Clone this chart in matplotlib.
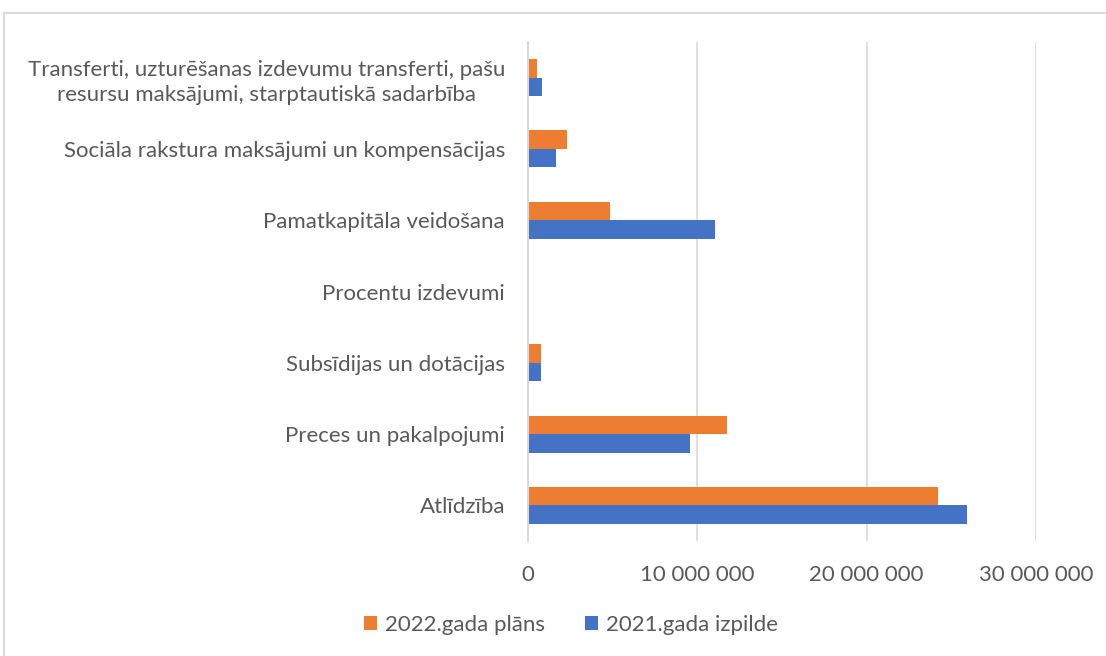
import numpy as np
import matplotlib.pyplot as plt
from matplotlib.lines import Line2D
from matplotlib.ticker import FuncFormatter

categories = [
    "Atlīdzība",
    "Preces un pakalpojumi",
    "Subsīdijas un dotācijas",
    "Procentu izdevumi",
    "Pamatkapitāla veidošana",
    "Sociāla rakstura maksājumi un kompensācijas",
    "Transferti, uzturēšanas izdevumu transferti, pašu\nresursu maksājumi, starptautiskā sadarbība",
]
plan_2022 = [24240000, 11760000, 750000, 0, 4850000, 2330000, 510000]
izpilde_2021 = [25920000, 9540000, 750000, 0, 11070000, 1660000, 830000]
series_names = ["2022.gada plāns", "2021.gada izpilde"]

orange = "#ed7d31"
blue = "#4472c4"
gray_text = "#595959"

plt.rcParams['font.family'] = ['Lato', 'DejaVu Sans']

fig = plt.figure(figsize=(11.06, 6.56), dpi=100)
ax = fig.add_axes([528 / 1106, 1 - 541 / 656, (1036 - 528) / 1106, (541 - 42) / 656])

y = np.arange(len(categories))
h = 0.26
ax.barh(y + h / 2, plan_2022, height=h, color=orange, label=series_names[0], zorder=3)
ax.barh(y - h / 2, izpilde_2021, height=h, color=blue, label=series_names[1], zorder=3)

ax.set_ylim(-0.5, len(categories) - 0.5)
ax.set_xlim(0, 30000000)
ax.set_xticks([0, 10000000, 20000000, 30000000])
ax.xaxis.set_major_formatter(FuncFormatter(lambda v, p: f"{int(v):,}".replace(",", " ")))
ax.set_yticks(y)
ax.set_yticklabels(categories)
for lbl in ax.get_yticklabels():
    lbl.set_multialignment('center')
    lbl.set_linespacing(1.35)

fs = 16
ax.tick_params(axis='both', length=0, labelsize=fs, labelcolor=gray_text)
ax.tick_params(axis='y', pad=16.5)
ax.tick_params(axis='x', pad=17)
ax.grid(axis='x', color="#d9d9d9", linewidth=1.2, zorder=0)
for s in ["top", "right", "bottom"]:
    ax.spines[s].set_visible(False)
ax.spines["left"].set_color("#d9d9d9")
ax.spines["left"].set_linewidth(1.5)
ax.spines["left"].set_zorder(4)

ax.legend(loc="center", bbox_to_anchor=(571 / 1106, 1 - 625 / 656), bbox_transform=fig.transFigure,
          ncol=2, frameon=False, fontsize=fs, labelcolor=gray_text,
          handlelength=0.6, handleheight=0.6, handletextpad=0.35, columnspacing=1.8)

# chart border (left and top edges visible)
fig.add_artist(Line2D([4 / 1106, 4 / 1106], [0, 1 - 13 / 656], transform=fig.transFigure,
                      color="#d9d9d9", linewidth=1.5))
fig.add_artist(Line2D([4 / 1106, 1], [1 - 13 / 656, 1 - 13 / 656], transform=fig.transFigure,
                      color="#d9d9d9", linewidth=1.5))

fig.savefig("out.png", dpi=100)
